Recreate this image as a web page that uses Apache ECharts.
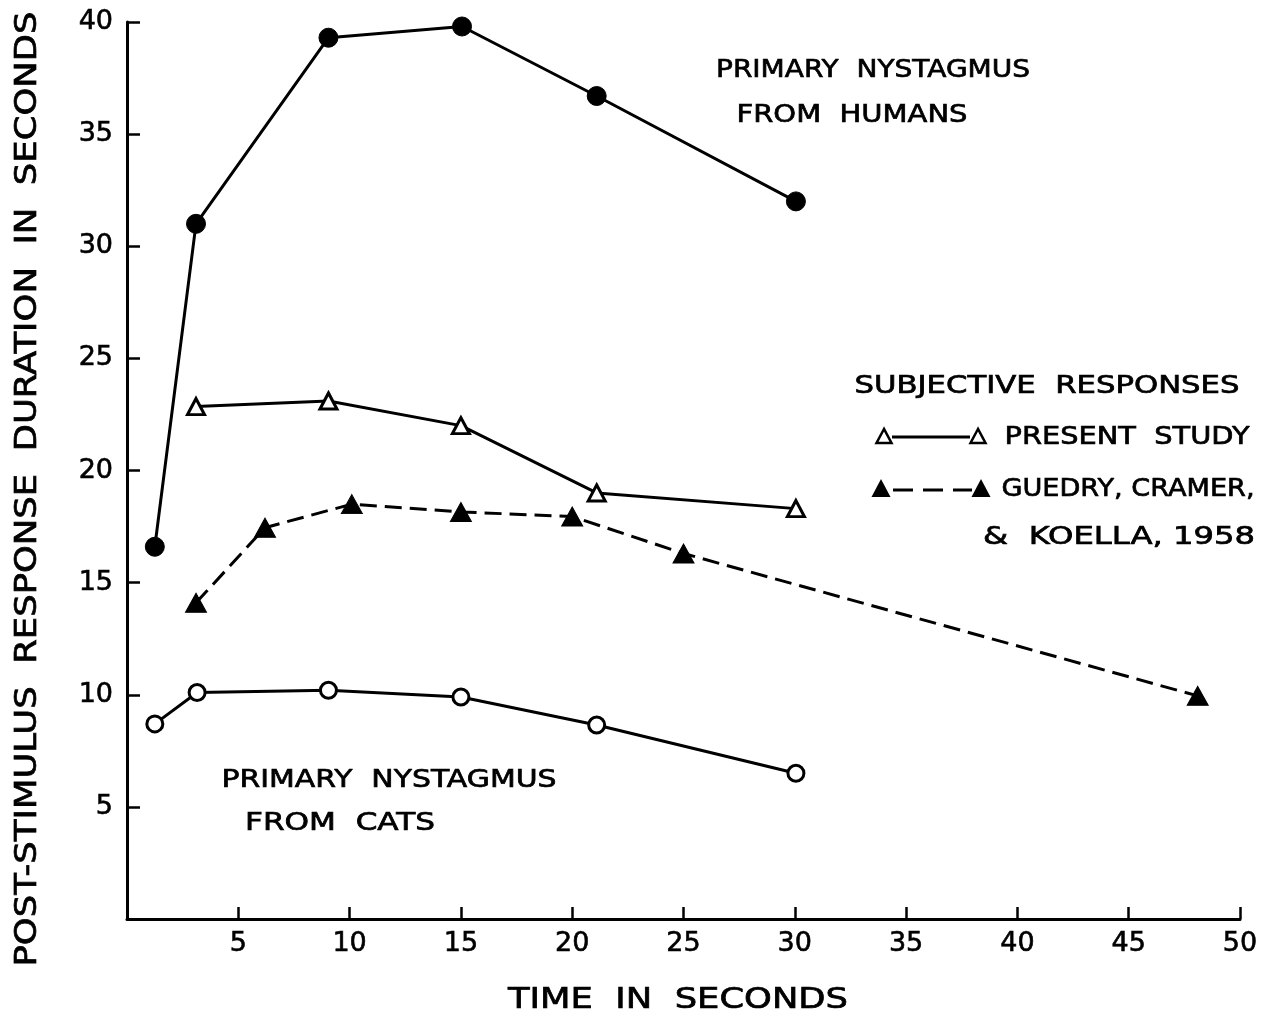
<!DOCTYPE html>
<html>
<head>
<meta charset="utf-8">
<script src="https://cdn.jsdelivr.net/npm/echarts@6/dist/echarts.min.js"></script>
<style>html,body{margin:0;padding:0;background:#fff;}#c{width:1271px;height:1018px;}</style>
</head>
<body>
<div id="c"></div>
<script>
// ---- data ----
var xTicks = [0, 5, 10, 15, 20, 25, 30, 35, 40, 45, 50];
var yTicks = [0, 5, 10, 15, 20, 25, 30, 35, 40];
var humansX = [1.25, 3.1, 9.05, 15.05, 21.1, 30.05];
var humansY = [16.6, 31.0, 39.3, 39.8, 36.7, 32.0];
var catsX = [1.25, 3.15, 9.05, 15.0, 21.1, 30.05];
var catsY = [8.7, 10.1, 10.2, 9.9, 8.65, 6.5];
var presentX = [3.1, 9.05, 15.0, 21.1, 30.05];
var presentY = [22.85, 23.1, 22.0, 19.0, 18.3];
var guedryX = [3.1, 6.2, 10.1, 15.0, 20.0, 25.0, 48.1];
var guedryY = [14.1, 17.45, 18.5, 18.15, 17.95, 16.3, 9.95];

function pairs(xs, ys) { return xs.map(function (x, i) { return [x, ys[i]]; }); }

var FONT = 'DejaVu Sans';
var mctx = document.createElement('canvas').getContext('2d');
// text stretched horizontally to the lettering width seen in the reference
function fitText(str, cx, cy, width, size, rot) {
  var font = size + 'px "' + FONT + '"';
  mctx.font = font;
  var w = mctx.measureText(str).width;
  return { type: 'text', x: cx, y: cy, rotation: rot || 0, scaleX: width / w, scaleY: 1,
    style: { text: str, font: font, fill: '#000', stroke: '#000', lineWidth: 0.7,
      align: 'center', verticalAlign: 'middle' } };
}
function tri(cx, cy, w, h, filled) {
  return { type: 'polygon', shape: { points: [[cx, cy - h / 2], [cx - w / 2, cy + h / 2], [cx + w / 2, cy + h / 2]] },
    style: filled ? { fill: '#000' } : { fill: '#fff', stroke: '#000', lineWidth: 2.5 }, z: 10 };
}

var chart = echarts.init(document.getElementById('c'));
var lineBase = { type: 'line', silent: true, z: 3 };
var labelCommon = { color: '#000', fontSize: 27, fontFamily: FONT, textBorderColor: '#000', textBorderWidth: 0.6,
  formatter: function (v) { return v === 0 ? '' : String(v); } };
chart.setOption({
  animation: false,
  backgroundColor: '#fff',
  grid: { left: 127, right: 31, top: 22, bottom: 99 },
  xAxis: {
    type: 'value', min: xTicks[0], max: xTicks[xTicks.length - 1], interval: 5,
    axisLine: { lineStyle: { color: '#000', width: 3 } },
    axisTick: { inside: true, length: 12, lineStyle: { color: '#000', width: 2.5 } },
    splitLine: { show: false },
    axisLabel: Object.assign({ margin: 11 }, labelCommon)
  },
  yAxis: {
    type: 'value', min: yTicks[0], max: yTicks[yTicks.length - 1], interval: 5,
    axisLine: { show: true, lineStyle: { color: '#000', width: 3 } },
    axisTick: { show: true, inside: true, length: 13, lineStyle: { color: '#000', width: 2.5 } },
    splitLine: { show: false },
    axisLabel: Object.assign({ margin: 14 }, labelCommon)
  },
  series: [
    Object.assign({}, lineBase, { name: 'Humans', data: pairs(humansX, humansY), symbol: 'circle', symbolSize: 19,
      itemStyle: { color: '#000', borderColor: '#000' }, lineStyle: { color: '#000', width: 3 } }),
    Object.assign({}, lineBase, { name: 'Cats', data: pairs(catsX, catsY), symbol: 'circle', symbolSize: 16,
      itemStyle: { color: '#fff', borderColor: '#000', borderWidth: 3 }, lineStyle: { color: '#000', width: 3 } }),
    Object.assign({}, lineBase, { name: 'Present study', data: pairs(presentX, presentY), symbol: 'triangle', symbolSize: [17, 16],
      itemStyle: { color: '#fff', borderColor: '#000', borderWidth: 3 }, lineStyle: { color: '#000', width: 3 } }),
    Object.assign({}, lineBase, { name: 'Guedry', data: pairs(guedryX, guedryY), symbol: 'triangle', symbolSize: [21, 19],
      itemStyle: { color: '#000', borderColor: '#000' }, lineStyle: { color: '#000', width: 3, type: [17, 8] } })
  ],
  graphic: [
    fitText('POST-STIMULUS  RESPONSE  DURATION  IN  SECONDS', 28, 489, 955, 31, Math.PI / 2),
    fitText('TIME  IN  SECONDS', 678, 1000, 340, 29),
    fitText('PRIMARY  NYSTAGMUS', 873, 70, 314, 25),
    fitText('FROM  HUMANS', 852, 115, 231, 25),
    fitText('PRIMARY  NYSTAGMUS', 389, 780, 335, 25),
    fitText('FROM  CATS', 340, 823, 190, 25),
    fitText('SUBJECTIVE  RESPONSES', 1047, 386, 385, 25),
    fitText('PRESENT  STUDY', 1127, 437, 245, 25),
    fitText('GUEDRY, CRAMER,', 1128, 489, 253, 25),
    fitText('&  KOELLA, 1958', 1119, 537, 272, 25),
    // legend keys
    { type: 'line', shape: { x1: 892, y1: 437, x2: 970, y2: 437 }, style: { stroke: '#000', lineWidth: 3 } },
    tri(884, 436, 15, 14, false),
    tri(978, 436, 15, 14, false),
    { type: 'line', shape: { x1: 893, y1: 490, x2: 972, y2: 490 }, style: { stroke: '#000', lineWidth: 3, lineDash: [20, 10] } },
    tri(881, 488, 19, 18, true),
    tri(981, 488, 19, 18, true)
  ]
});
</script>
</body>
</html>
